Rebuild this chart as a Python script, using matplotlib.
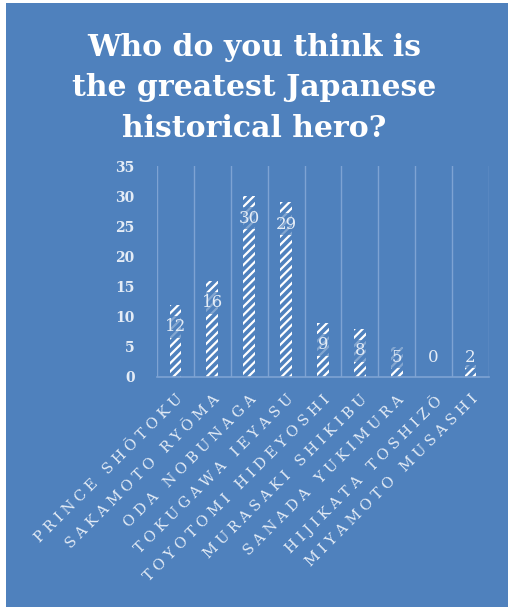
import matplotlib
matplotlib.use("Agg")
import matplotlib.pyplot as plt
import numpy as np

heroes = ["PRINCE SHŌTOKU", "SAKAMOTO RYŌMA", "ODA NOBUNAGA", "TOKUGAWA IEYASU",
          "TOYOTOMI HIDEYOSHI", "MURASAKI SHIKIBU", "SANADA YUKIMURA",
          "HIJIKATA TOSHIZŌ", "MIYAMOTO MUSASHI"]
votes = [12, 16, 30, 29, 9, 8, 5, 0, 2]
y_ticks = [0, 5, 10, 15, 20, 25, 30, 35]

bg = "#4f81bd"
grid_c = "#7ea3d3"
txt_c = "#e4ecf6"

plt.rcParams["font.family"] = ["DejaVu Serif"]
plt.rcParams["hatch.linewidth"] = 1.6


def spaced(s):
    # open tracking for the category names, wider gap between words
    gap = "\u2009\u200a"
    return (gap + " " + gap).join(gap.join(w) for w in s.split(" "))


fig = plt.figure(figsize=(5.08, 6.09), dpi=100)
fig.patch.set_facecolor("white")
# blue card behind everything
card = plt.Rectangle((6 / 508, 2 / 609), 502 / 508, 604 / 609,
                     transform=fig.transFigure, facecolor=bg,
                     edgecolor="none", zorder=-10)
fig.patches.append(card)

fig.text(0.5, 1 - 88 / 609, "Who do you think is\nthe greatest Japanese\nhistorical hero?",
         ha="center", va="center", color="white", fontsize=21.5, fontweight="bold",
         linespacing=1.48)

ax = fig.add_axes([157 / 508, 1 - 377 / 609, 332 / 508, 211 / 609])
ax.set_zorder(5)
ax.set_facecolor("none")
x = np.arange(len(heroes))
ax.bar(x, votes, width=0.32, color=bg, edgecolor="white", linewidth=0,
       hatch="////", zorder=2)

for i in range(len(heroes) + 1):
    ax.axvline(i - 0.5, color=grid_c, lw=1, zorder=1)

for xi, v in zip(x, votes):
    ax.text(xi, max(v - 3.65, 3.3), str(v), ha="center", va="center",
            color=txt_c, fontsize=12, zorder=3,
            bbox=dict(boxstyle="square,pad=0.15", facecolor=bg, alpha=0.7,
                      edgecolor="none"))

ax.set_xlim(-0.5, len(heroes) - 0.5)
ax.set_ylim(0, 35)
ax.set_yticks(y_ticks)
ax.tick_params(axis="y", length=0, pad=16, labelsize=10, labelcolor=txt_c)
for t in ax.get_yticklabels():
    t.set_fontweight("bold")
ax.set_xticks(x)
ax.set_xticklabels([spaced(h) for h in heroes], rotation=45, ha="right",
                   rotation_mode="anchor", fontsize=10.5, color=txt_c)
ax.tick_params(axis="x", length=0, pad=11)
for s in ["top", "right", "left"]:
    ax.spines[s].set_visible(False)
ax.spines["bottom"].set_color(grid_c)
ax.spines["bottom"].set_linewidth(1.2)

fig.savefig("out.png", dpi=100)
